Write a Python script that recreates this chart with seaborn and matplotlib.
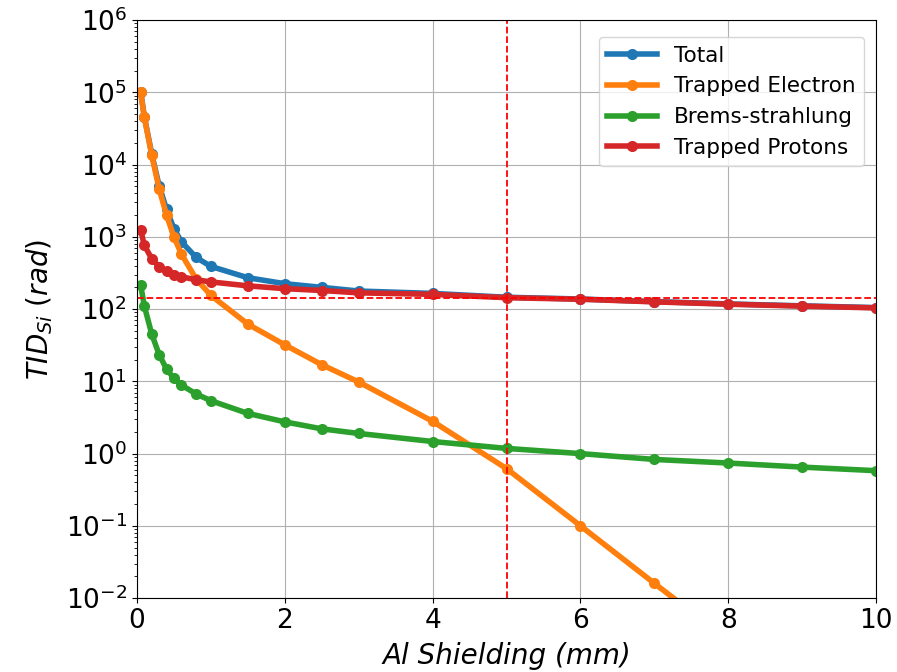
import numpy as np
import pandas as pd
import matplotlib
matplotlib.use("Agg")
import matplotlib.pyplot as plt
import seaborn as sns

# shielding depths (mm Al)
depth = [0.05, 0.1, 0.2, 0.3, 0.4, 0.5, 0.6, 0.8, 1.0, 1.5, 2.0, 2.5, 3.0,
         4.0, 5.0, 6.0, 7.0, 8.0, 9.0, 10.0]

# dose values (rad)
total = [1.02e5, 4.6e4, 1.4e4, 5.1e3, 2.4e3, 1.3e3, 860, 520, 390, 272, 225,
         200, 178, 165, 146, 138, 127, 118, 111, 105]
electron = [1.0e5, 4.5e4, 1.35e4, 4.6e3, 2.0e3, 1.0e3, 580, 262, 155, 62, 32,
            17, 9.8, 2.8, 0.62, 0.10, 0.016, 2.6e-3, 4e-4, 6e-5]
brems = [215, 110, 45, 23.5, 14.8, 11.0, 8.9, 6.7, 5.4, 3.6, 2.75, 2.2, 1.9,
         1.47, 1.18, 1.0, 0.83, 0.74, 0.65, 0.58]
protons = [1250, 760, 500, 385, 335, 295, 280, 255, 238, 210, 192, 181, 168,
           160, 144, 137, 126, 117, 110, 104]

labels = ["Total", "Trapped Electron", "Brems-strahlung", "Trapped Protons"]

df = pd.concat([
    pd.DataFrame({"depth": depth, "dose": vals, "source": name})
    for name, vals in zip(labels, [total, electron, brems, protons])
])

fig = plt.figure(figsize=(8.97, 6.72), dpi=100)
ax = fig.add_axes([0.1527, 0.110, 0.824, 0.860])

sns.lineplot(data=df, x="depth", y="dose", hue="source", hue_order=labels,
             palette=sns.color_palette("tab10", 4), marker="o", markersize=8,
             markeredgewidth=0, linewidth=4, ax=ax)

ax.axvline(5, color="red", linestyle="--", linewidth=1.3)
ax.axhline(142, color="red", linestyle="--", linewidth=1.3)

ax.set_yscale("log")
ax.set_xlim(0, 10)
ax.set_ylim(1e-2, 1e6)
ax.set_yticks([10.0 ** k for k in range(-2, 7)])
ax.grid(True, which="major", color="#b0b0b0", linewidth=0.8)
ax.set_axisbelow(True)
ax.tick_params(labelsize=19)

ax.set_xlabel("Al Shielding (mm)", fontsize=20, style="italic", labelpad=6)
ax.set_ylabel(r"$TID_{Si}$ $(rad)$", fontsize=20, labelpad=8)

ax.legend(loc="upper right", bbox_to_anchor=(0.984, 0.971), borderaxespad=0,
          fontsize=15.5, title=None, handlelength=2.3)

fig.savefig("out.png", dpi=100)
